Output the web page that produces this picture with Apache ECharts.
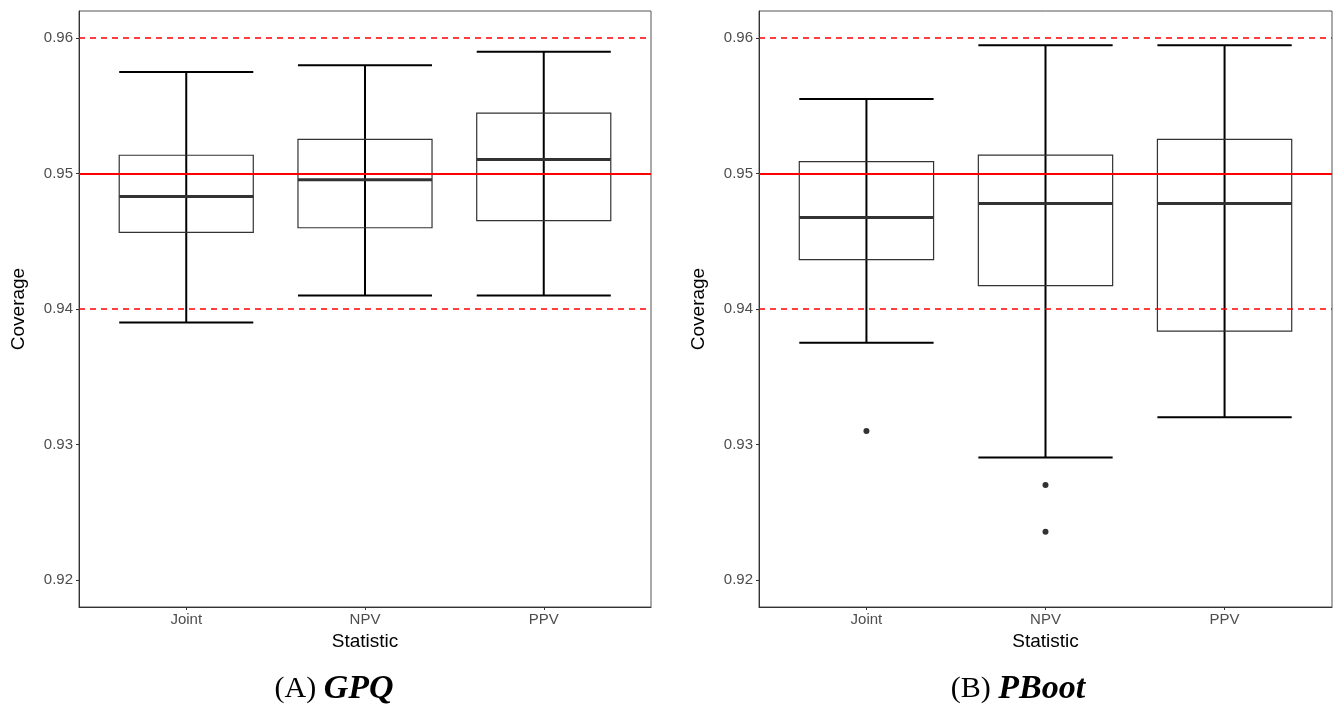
<!DOCTYPE html>
<html>
<head>
<meta charset="utf-8">
<script src="https://cdn.jsdelivr.net/npm/echarts@6/dist/echarts.min.js"></script>
<style>
  html, body { margin: 0; padding: 0; background: #fff; }
  #chart { width: 1333px; height: 705px; }
</style>
</head>
<body>
<div id="chart"></div>
<script>
// categories on the x axis (placed at 1, 2, 3)
var categories = ['Joint', 'NPV', 'PPV'];

// [lower whisker, Q1, median, Q3, upper whisker]
var gpqBoxes = [
    [0.9390, 0.94565, 0.94830, 0.95135, 0.95750],
    [0.9410, 0.94600, 0.94955, 0.95252, 0.95800],
    [0.9410, 0.94652, 0.95104, 0.95446, 0.95900]
];
var pbootBoxes = [
    [0.93750, 0.94364, 0.94675, 0.95088, 0.95550],
    [0.92904, 0.94172, 0.94778, 0.95136, 0.95948],
    [0.93200, 0.93837, 0.94778, 0.95252, 0.95948]
];
// outliers: [category index, value]
var pbootOutliers = [[0, 0.9310], [1, 0.9270], [1, 0.92355]];

var yTicks = [0.92, 0.93, 0.94, 0.95, 0.96];
var nominalLevel = 0.95;
var boundLevels = [0.94, 0.96];

var chart = echarts.init(document.getElementById('chart'));

function boxData(boxes) {
    return boxes.map(function (b, i) {
        return [i + 1, b[0], b[1], b[2], b[3], b[4]];
    });
}

function renderBox(params, api) {
    var x = api.value(0);
    var half = api.size([0.75, 0])[0] / 2;
    var lo = api.coord([x, api.value(1)]);
    var q1 = api.coord([x, api.value(2)]);
    var med = api.coord([x, api.value(3)]);
    var q3 = api.coord([x, api.value(4)]);
    var hi = api.coord([x, api.value(5)]);
    var cx = lo[0];
    return {
        type: 'group',
        children: [
            {
                type: 'line',
                shape: {x1: cx, y1: hi[1], x2: cx, y2: lo[1]},
                style: {stroke: '#000', lineWidth: 2}
            },
            {
                type: 'line',
                shape: {x1: cx - half, y1: hi[1], x2: cx + half, y2: hi[1]},
                style: {stroke: '#000', lineWidth: 2}
            },
            {
                type: 'line',
                shape: {x1: cx - half, y1: lo[1], x2: cx + half, y2: lo[1]},
                style: {stroke: '#000', lineWidth: 2}
            },
            {
                type: 'rect',
                shape: {x: cx - half, y: q3[1], width: half * 2, height: q1[1] - q3[1]},
                style: {fill: 'none', stroke: '#333', lineWidth: 1.2}
            },
            {
                type: 'line',
                shape: {x1: cx - half, y1: med[1], x2: cx + half, y2: med[1]},
                style: {stroke: '#333', lineWidth: 3}
            }
        ]
    };
}

// horizontal reference lines: [x, level, dashed flag]
function refData() {
    var d = [[1, nominalLevel, 0]];
    boundLevels.forEach(function (v) { d.push([1, v, 1]); });
    return d;
}

function renderRef(params, api) {
    var cs = params.coordSys;
    var dashed = api.value(2) === 1;
    var y = Math.round(api.coord([1, api.value(1)])[1]);
    return {
        type: 'line',
        shape: {x1: cs.x, y1: y, x2: cs.x + cs.width, y2: y},
        style: {
            stroke: '#ff0000',
            lineWidth: dashed ? 1.5 : 2,
            lineDash: dashed ? [6, 5] : null
        }
    };
}

var xAxisBase = {
    type: 'value',
    min: 0.4,
    max: 3.6,
    name: 'Statistic',
    nameLocation: 'middle',
    nameGap: 24,
    nameTextStyle: {fontFamily: 'Liberation Sans', fontSize: 19, color: '#000'},
    splitLine: {show: false},
    axisLine: {show: true, lineStyle: {color: '#333', width: 1}},
    axisTick: {show: true, customValues: [1, 2, 3], length: 3, lineStyle: {color: '#333'}},
    axisLabel: {
        customValues: [1, 2, 3],
        margin: 5,
        fontFamily: 'Liberation Sans',
        fontSize: 15,
        color: '#4d4d4d',
        formatter: function (v) { return categories[Math.round(v) - 1] || ''; }
    }
};
var yAxisBase = {
    type: 'value',
    min: 0.918,
    max: 0.962,
    name: 'Coverage',
    nameLocation: 'middle',
    nameGap: 51,
    nameRotate: 90,
    nameTextStyle: {fontFamily: 'Liberation Sans', fontSize: 19, color: '#000'},
    splitLine: {show: false},
    axisLine: {show: true, lineStyle: {color: '#333', width: 1}},
    axisTick: {show: true, customValues: yTicks, length: 3, lineStyle: {color: '#333'}},
    axisLabel: {
        customValues: yTicks,
        margin: 6,
        fontFamily: 'Liberation Sans',
        fontSize: 15,
        color: '#4d4d4d',
        formatter: function (v) { return v.toFixed(2); }
    }
};

var captionRich = {
    n: {fontFamily: 'Liberation Serif', fontSize: 30, fontWeight: 'normal', color: '#000'},
    m: {fontFamily: 'Liberation Serif', fontSize: 34, fontStyle: 'italic', fontWeight: 'bold', color: '#000'}
};

var option = {
    animation: false,
    backgroundColor: '#fff',
    title: [
        {text: '{n|(A) }{m|GPQ}', left: 329, top: 667, textAlign: 'center', textStyle: {fontWeight: 'normal', rich: captionRich}},
        {text: '{n|(B) }{m|PBoot}', left: 1013, top: 667, textAlign: 'center', textStyle: {fontWeight: 'normal', rich: captionRich}}
    ],
    grid: [
        {left: 79, top: 11, width: 572, height: 596, show: true, borderColor: '#555', borderWidth: 1, backgroundColor: 'transparent'},
        {left: 759, top: 11, width: 573, height: 596, show: true, borderColor: '#555', borderWidth: 1, backgroundColor: 'transparent'}
    ],
    xAxis: [
        Object.assign({gridIndex: 0}, xAxisBase),
        Object.assign({gridIndex: 1}, xAxisBase)
    ],
    yAxis: [
        Object.assign({gridIndex: 0}, yAxisBase),
        Object.assign({gridIndex: 1}, yAxisBase)
    ],
    series: [
        {
            type: 'custom',
            xAxisIndex: 0,
            yAxisIndex: 0,
            renderItem: renderBox,
            encode: {x: 0, y: [1, 2, 3, 4, 5]},
            data: boxData(gpqBoxes)
        },
        {
            type: 'custom',
            xAxisIndex: 1,
            yAxisIndex: 1,
            renderItem: renderBox,
            encode: {x: 0, y: [1, 2, 3, 4, 5]},
            data: boxData(pbootBoxes)
        },
        {
            type: 'scatter',
            xAxisIndex: 1,
            yAxisIndex: 1,
            symbolSize: 6,
            itemStyle: {color: '#333', opacity: 1},
            data: pbootOutliers.map(function (p) { return [p[0] + 1, p[1]]; })
        },
        {
            type: 'custom',
            xAxisIndex: 0,
            yAxisIndex: 0,
            z: 10,
            silent: true,
            renderItem: renderRef,
            encode: {x: 0, y: 1},
            data: refData()
        },
        {
            type: 'custom',
            xAxisIndex: 1,
            yAxisIndex: 1,
            z: 10,
            silent: true,
            renderItem: renderRef,
            encode: {x: 0, y: 1},
            data: refData()
        }
    ]
};

chart.setOption(option);
</script>
</body>
</html>
